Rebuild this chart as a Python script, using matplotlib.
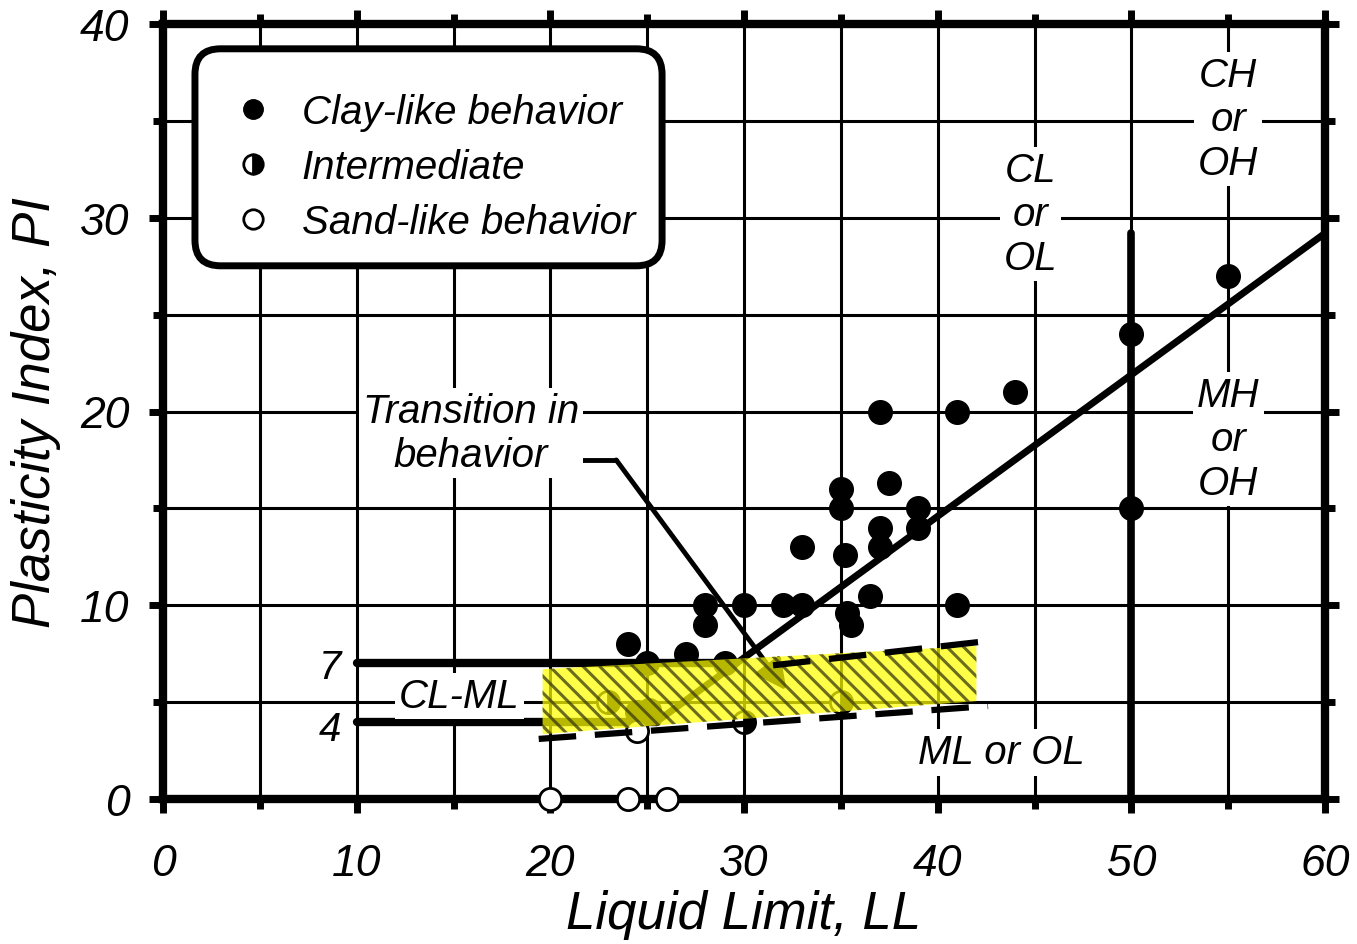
import matplotlib.pyplot as plt
from matplotlib.lines import Line2D
from matplotlib.patches import Polygon, FancyBboxPatch
from matplotlib.ticker import MultipleLocator

plt.rcParams['font.family'] = ['Liberation Sans', 'DejaVu Sans']
plt.rcParams['font.style'] = 'italic'
plt.rcParams['hatch.linewidth'] = 2.2

# test results (LL, PI)
clay_ll = [24, 25, 27, 28, 28, 29, 30, 32, 33, 33, 35, 35, 35.2, 35.3, 35.5,
           36.5, 37, 37, 37, 37.5, 39, 39, 41, 41, 44, 50, 50, 55, 24.5, 25.1]
clay_pi = [8, 7, 7.5, 10, 9, 7, 10, 10, 10, 13, 16, 15, 12.6, 9.6, 9,
           10.5, 20, 14, 13, 16.3, 15, 14, 20, 10, 21, 24, 15, 27, 4.5, 4.6]
inter_ll = [23, 30, 35]
inter_pi = [5, 4, 5]
sand_ll = [20, 24, 26, 24.5]
sand_pi = [0, 0, 0, 3.5]

# chart boundaries
aline_ll = [25.5, 60]
aline_pi = [4, 29.2]
top_ll = [10, 29.6]
top_pi = [7, 7]
low_ll = [10, 25.5]
low_pi = [4, 4]
ll50_ll = [50, 50]
ll50_pi = [0, 29.2]

# transition zone
band_ll = [19.6, 19.6, 42, 42]
band_pi = [3.35, 6.7, 7.9, 5.05]
dash_up_ll = [31.5, 43]
dash_up_pi = [6.9, 8.2]
dash_lo_ll = [19.4, 42.6]
dash_lo_pi = [3.1, 4.8]

fig = plt.figure(figsize=(13.57, 9.45), dpi=100)
ax = fig.add_axes([163 / 1357, 145 / 945, 1162 / 1357, 775 / 945])
ax.set_xlim(0, 60)
ax.set_ylim(0, 40)

ax.xaxis.set_major_locator(MultipleLocator(10))
ax.xaxis.set_minor_locator(MultipleLocator(5))
ax.yaxis.set_major_locator(MultipleLocator(10))
ax.yaxis.set_minor_locator(MultipleLocator(5))
ax.grid(which='both', color='black', lw=2.2, zorder=0)
ax.set_axisbelow(True)
for s in ax.spines.values():
    s.set_linewidth(6)
ax.tick_params(which='both', direction='out', width=5, top=True, right=True,
               labelsize=32)
ax.tick_params(which='major', length=10, pad=14)
ax.tick_params(axis='x', which='major', pad=22)
ax.tick_params(which='minor', length=7)

ax.set_xlabel('Liquid Limit, LL', fontsize=38, labelpad=3)
ax.set_ylabel('Plasticity Index, PI', fontsize=38, labelpad=14)

ax.plot(top_ll, top_pi, color='black', lw=6, solid_capstyle='round', zorder=3)
ax.plot(low_ll, low_pi, color='black', lw=6, solid_capstyle='round', zorder=3)
ax.plot(aline_ll, aline_pi, color='black', lw=5, zorder=3)
ax.plot(ll50_ll, ll50_pi, color='black', lw=5.5, solid_capstyle='round', zorder=3)

ax.plot(clay_ll, clay_pi, 'o', color='black', ms=17, zorder=4, clip_on=False)
ax.plot(inter_ll, inter_pi, 'o', ms=16, mfc='black', mfcalt='white',
        fillstyle='right', mec='black', mew=2, zorder=4)
ax.plot(sand_ll, sand_pi, 'o', ms=16, mfc='white', mec='black', mew=2,
        zorder=5, clip_on=False)

# arrow pointing into the transition zone
ax.plot([20.75, 23.4], [17.5, 17.5], color='black', lw=3.5,
        solid_capstyle='round', zorder=3)
ax.annotate('', xy=(32.2, 5.6), xytext=(23.4, 17.5),
            arrowprops=dict(arrowstyle='-|>', color='black', lw=3.5,
                            mutation_scale=45, shrinkA=0, shrinkB=0),
            zorder=3)

band = list(zip(band_ll, band_pi))
ax.add_patch(Polygon(band, closed=True, facecolor='#ffff00', lw=0,
                     alpha=0.72, zorder=6))
ax.add_patch(Polygon(band, closed=True, facecolor='none', edgecolor='#3a3a10',
                     lw=0, hatch='\\\\', alpha=0.75, zorder=6))
ax.plot(dash_up_ll, dash_up_pi, color='black', lw=4.5, dashes=(6, 3), zorder=6)
ax.plot(dash_lo_ll, dash_lo_pi, color='black', lw=4.5, dashes=(6, 3), zorder=6)

box = dict(facecolor='white', edgecolor='none', pad=3)
lab = dict(fontsize=29, ha='center', va='center', linespacing=1.2,
           bbox=box, zorder=7)
ax.text(55, 35.1, 'CH\nor\nOH', **lab)
ax.text(44.8, 30.2, 'CL\nor\nOL', **lab)
ax.text(55, 18.6, 'MH\nor\nOH', **lab)
ax.text(43.3, 2.4, 'ML or OL', **lab)
ax.text(15.3, 5.3, 'CL-ML', **lab)
ax.text(15.9, 18.9, 'Transition in\nbehavior', **lab)
ax.text(8.6, 6.8, '7', fontsize=29, ha='center', va='center', zorder=7)
ax.text(8.6, 3.6, '4', fontsize=29, ha='center', va='center', zorder=7)

# legend frame drawn separately so the entries can sit lower in the box
aspect = 1162 / 775
ax.add_patch(FancyBboxPatch((0.0275, 0.688), 0.402, 0.28,
                            boxstyle='round,pad=0,rounding_size=0.022',
                            mutation_aspect=aspect, transform=ax.transAxes,
                            facecolor='white', edgecolor='black', lw=5,
                            zorder=8, clip_on=False))

handles = [
    Line2D([], [], ls='none', marker='o', ms=14, color='black'),
    Line2D([], [], ls='none', marker='o', ms=14, mfc='black', mfcalt='white',
           fillstyle='right', mec='black', mew=2),
    Line2D([], [], ls='none', marker='o', ms=14, mfc='white', mec='black', mew=2),
]
labels = ['Clay-like behavior', 'Intermediate', 'Sand-like behavior']
leg = ax.legend(handles, labels, loc='upper left',
                bbox_to_anchor=(0.0275, 0.952), fontsize=29, frameon=False,
                borderpad=0.8, labelspacing=0.42, handlelength=1.3,
                handletextpad=0.55, borderaxespad=0)
leg.set_zorder(9)

fig.savefig('out.png', dpi=100)
